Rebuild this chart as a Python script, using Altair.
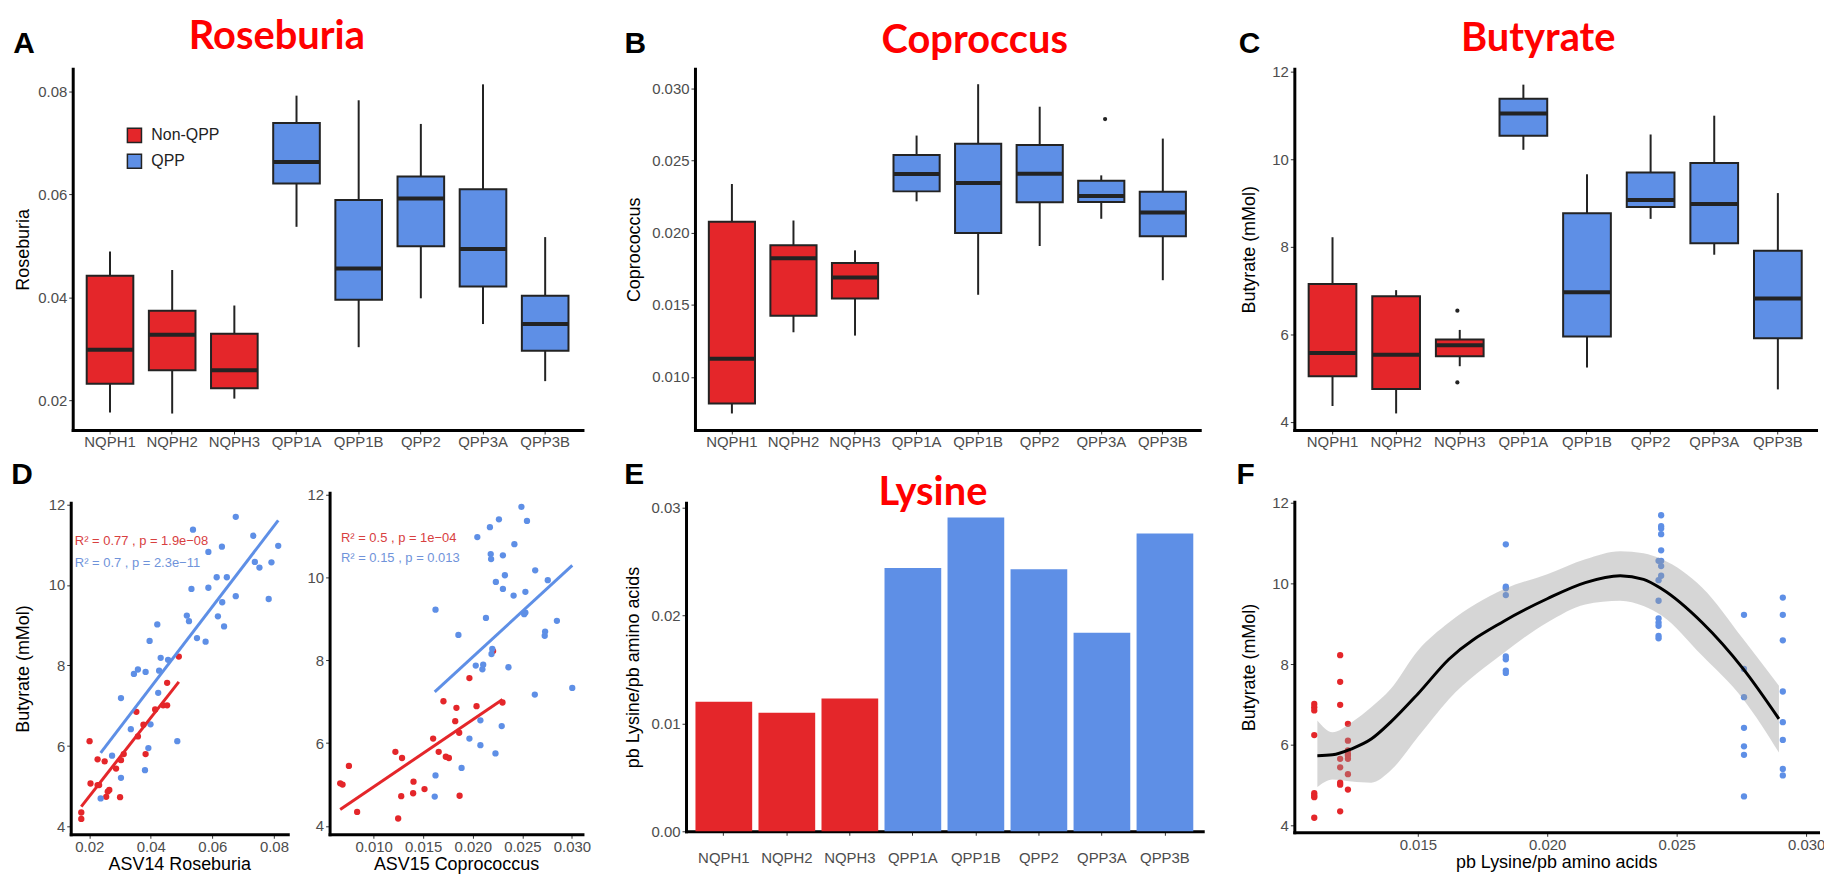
import altair as alt
import pandas as pd

# ------------------------------------------------------------------ data
groups = ["NQPH1", "NQPH2", "NQPH3", "QPP1A", "QPP1B", "QPP2", "QPP3A", "QPP3B"]
group_type = ["Non-QPP", "Non-QPP", "Non-QPP", "QPP", "QPP", "QPP", "QPP", "QPP"]

# A: Roseburia box summaries
rose_low = [0.0176, 0.0174, 0.0203, 0.0537, 0.0303, 0.0398, 0.0348, 0.0237]
rose_q1 = [0.0232, 0.0258, 0.0223, 0.0621, 0.0395, 0.0499, 0.0421, 0.0296]
rose_med = [0.0298, 0.0327, 0.0258, 0.0663, 0.0456, 0.0592, 0.0494, 0.0348]
rose_q3 = [0.0442, 0.0374, 0.0329, 0.0739, 0.0589, 0.0635, 0.0610, 0.0403]
rose_high = [0.0489, 0.0453, 0.0384, 0.0792, 0.0783, 0.0737, 0.0814, 0.0517]

# B: Coprococcus box summaries
cop_low = [0.00747, 0.01310, 0.01287, 0.02218, 0.01570, 0.01908, 0.02097, 0.01671]
cop_q1 = [0.00816, 0.01425, 0.01545, 0.02287, 0.01998, 0.02211, 0.02214, 0.01975]
cop_med = [0.01126, 0.01823, 0.01690, 0.02407, 0.02345, 0.02409, 0.02255, 0.02140]
cop_q3 = [0.02076, 0.01913, 0.01791, 0.02540, 0.02618, 0.02609, 0.02361, 0.02285]
cop_high = [0.02338, 0.02085, 0.01878, 0.02674, 0.03030, 0.02874, 0.02398, 0.02653]
cop_out_group = ["QPP3A"]
cop_out_value = [0.02788]

# C: Butyrate box summaries
but_low = [4.36, 4.19, 5.27, 10.22, 5.24, 8.64, 7.82, 4.74]
but_q1 = [5.04, 4.75, 5.50, 10.54, 5.95, 8.91, 8.08, 5.91]
but_med = [5.57, 5.53, 5.75, 11.05, 6.96, 9.07, 8.98, 6.82]
but_q3 = [7.15, 6.87, 5.88, 11.39, 8.77, 9.70, 9.92, 7.91]
but_high = [8.22, 7.01, 6.10, 11.71, 9.66, 10.57, 11.00, 9.23]
but_out_group = ["NQPH3", "NQPH3"]
but_out_value = [6.54, 4.90]

# D (left): ASV14 Roseburia vs butyrate
d1_red_x = [0.0174, 0.0174, 0.0204, 0.0201, 0.0227, 0.0227, 0.0232, 0.0250, 0.0255, 0.0260,
            0.0265, 0.0287, 0.0300, 0.0303, 0.0312, 0.0353, 0.0358, 0.0376, 0.0383, 0.0414,
            0.0440, 0.0453, 0.0453, 0.0491]
d1_red_y = [4.19, 4.35, 5.07, 6.12, 5.67, 5.03, 5.03, 5.62, 4.74, 4.87,
            4.91, 5.44, 4.73, 5.65, 5.80, 6.85, 6.24, 6.53, 5.80, 6.91,
            7.01, 7.01, 7.57, 8.22]
d1_blue_x = [0.0237, 0.0274, 0.0303, 0.0303, 0.0335, 0.0345, 0.0358, 0.0383, 0.0381, 0.0392,
             0.0396, 0.0399, 0.0421, 0.0424, 0.0427, 0.0432, 0.0456, 0.0486, 0.0517, 0.0524,
             0.0532, 0.0537, 0.0550, 0.0578, 0.0587, 0.0587, 0.0614, 0.0618, 0.0632, 0.0631,
             0.0638, 0.0647, 0.0676, 0.0676, 0.0733, 0.0738, 0.0753, 0.0783, 0.0792, 0.0814]
d1_blue_y = [4.70, 5.76, 5.21, 7.19, 6.42, 7.79, 7.90, 7.84, 5.40, 5.95,
             8.61, 6.54, 9.02, 7.32, 7.87, 8.19, 8.14, 6.12, 9.24, 9.10,
             9.90, 11.37, 8.68, 8.59, 10.82, 9.93, 10.19, 9.22, 9.57, 10.95,
             8.97, 10.19, 9.72, 11.69, 11.22, 10.57, 10.43, 9.65, 10.56, 10.97]

# D (right): ASV15 Coprococcus vs butyrate
d2_red_x = [0.00662, 0.00686, 0.00750, 0.00833, 0.01219, 0.01247, 0.01278, 0.01286, 0.01398, 0.01402,
            0.01513, 0.01600, 0.01656, 0.01704, 0.01728, 0.01759, 0.01823, 0.01835, 0.01863, 0.01867,
            0.01966, 0.02038, 0.02205, 0.02300]
d2_red_y = [5.03, 5.00, 5.45, 4.34, 5.79, 4.18, 4.72, 5.64, 4.79, 5.07,
            4.89, 6.11, 5.79, 7.01, 5.67, 5.64, 6.53, 6.85, 6.25, 4.73,
            7.57, 6.89, 8.22, 6.98]
d2_blue_x = [0.01624, 0.01624, 0.01616, 0.01855, 0.01887, 0.01966, 0.02030, 0.02046, 0.02077, 0.02077,
             0.02097, 0.02105, 0.02133, 0.02173, 0.02181, 0.02185, 0.02189, 0.02197, 0.02229, 0.02233,
             0.02264, 0.02304, 0.02304, 0.02324, 0.02292, 0.02360, 0.02412, 0.02420, 0.02491, 0.02519,
             0.02531, 0.02547, 0.02630, 0.02626, 0.02726, 0.02730, 0.02757, 0.02849, 0.03004, 0.02531]
d2_blue_y = [9.22, 5.22, 4.71, 8.61, 5.40, 6.11, 7.87, 10.97, 6.55, 5.95,
             7.78, 7.89, 9.02, 11.21, 10.56, 10.44, 8.15, 8.27, 5.75, 9.89,
             11.40, 10.53, 9.72, 10.05, 6.41, 7.83, 9.56, 10.80, 11.70, 9.11,
             9.65, 11.36, 10.17, 7.17, 8.59, 8.69, 9.93, 8.95, 7.33, 9.15]

d1_stats = ["R² = 0.77 , p = 1.9e−08", "R² = 0.7 , p = 2.3e−11"]
d2_stats = ["R² = 0.5 , p = 1e−04", "R² = 0.15 , p = 0.013"]

# E: lysine per group
lysine = [0.0120, 0.0110, 0.0123, 0.0244, 0.0291, 0.0243, 0.0184, 0.0276]

# F: butyrate per sample, by group
f_butyrate = {
    "NQPH1": [8.22, 7.56, 6.99, 5.65, 5.44, 5.06, 5.01, 4.35],
    "NQPH2": [7.01, 6.93, 6.85, 6.24, 4.80, 4.74, 4.70, 4.19],
    "NQPH3": [6.52, 6.10, 5.86, 5.77, 5.73, 5.65, 5.27, 4.89],
    "QPP1A": [11.69, 11.42, 11.36, 11.22, 10.82, 10.56, 10.43, 10.19],
    "QPP1B": [9.65, 9.22, 8.59, 7.32, 6.56, 6.12, 5.40, 5.24],
    "QPP2": [10.56, 10.08, 9.57, 9.13, 9.03, 8.95, 8.70, 8.64],
    "QPP3A": [10.97, 9.92, 9.88, 9.71, 8.19, 8.12, 7.84, 7.78],
    "QPP3B": [9.22, 7.88, 7.18, 6.42, 5.96, 5.75, 4.72],
}
smooth_x = [0.01112, 0.0117, 0.01245, 0.0132, 0.01395, 0.0150, 0.0162, 0.01834, 0.0200,
            0.02147, 0.02282, 0.02372, 0.02443, 0.02598, 0.02757, 0.02895]
smooth_fit = [5.73, 5.75, 5.90, 6.14, 6.56, 7.26, 8.12, 9.07, 9.62,
              10.02, 10.19, 10.10, 9.86, 9.03, 7.88, 6.64]
smooth_lo = [4.95, 5.14, 5.09, 5.06, 5.36, 6.19, 7.13, 8.29, 9.03,
             9.48, 9.57, 9.44, 9.20, 8.21, 7.13, 5.81]
smooth_hi = [6.60, 6.31, 6.56, 6.93, 7.38, 8.33, 9.03, 9.86, 10.23,
             10.60, 10.80, 10.75, 10.60, 9.90, 8.62, 7.46]

panel_letters = ["A", "B", "C", "D", "E", "F"]
panel_titles = ["Roseburia", "Coproccus", "Butyrate", "Lysine"]

# ------------------------------------------------------------------ style / layout
OFF = 8
W = 1832 - OFF
H = 875 - OFF


def vx(x):
    return x - OFF


def vy(y):
    return y - OFF


RED = "#E4262A"
BLUE = "#5E8FE6"
EDGE = "#232323"
LAB = "#4D4D4D"
FONT = "Liberation Sans"

AX = dict(domainColor="black", domainWidth=3, domainCap="square", tickColor="#333333",
          tickWidth=1, tickSize=4, labelFont=FONT, labelFontSize=15, labelColor=LAB,
          titleFont=FONT, titleFontSize=18, titleFontWeight="normal", titleColor="black",
          grid=False)


def left_axis(x_full, values, fmt, title=None, tpad=6):
    d = dict(AX, orient="left", offset=-vx(x_full), values=values, labelPadding=2,
             titlePadding=tpad, title=title)
    if fmt:
        d["format"] = fmt
    return alt.Axis(**d)


def bottom_axis(y_full, values=None, fmt=None, title=None, lpad=1, tpad=1):
    d = dict(AX, orient="bottom", offset=vy(y_full) - H, labelPadding=lpad,
             titlePadding=tpad, title=title, labelAngle=0)
    if values is not None:
        d["values"] = values
    if fmt:
        d["format"] = fmt
    return alt.Axis(**d)


def col_of(t):
    return RED if t == "Non-QPP" else BLUE


def box_panel(low, q1, med, q3, high, xr, yr, ydom, yvals, yfmt, ytitle, tpad,
              out_g=None, out_v=None, legend=False):
    df = pd.DataFrame({"group": groups, "type": group_type,
                       "col": [col_of(t) for t in group_type],
                       "low": low, "q1": q1, "med": med, "q3": q3, "high": high})
    step = (xr[1] - xr[0]) / 8.2
    xs = alt.Scale(domain=groups, range=[vx(xr[0]), vx(xr[1])], paddingInner=0.25, paddingOuter=0.225)
    ys = alt.Scale(domain=ydom, range=[vy(yr[1]), vy(yr[0])], nice=False, zero=False)
    base = alt.Chart(df)
    whisk = base.mark_rule(color=EDGE, strokeWidth=2, opacity=1).encode(
        x=alt.X("group:N", scale=xs, axis=None),
        y=alt.Y("low:Q", scale=ys, axis=None), y2="high:Q")
    if legend:
        fill = alt.Fill("type:N", scale=alt.Scale(domain=["Non-QPP", "QPP"], range=[RED, BLUE]),
                        legend=alt.Legend(orient="none", legendX=vx(127), legendY=vy(126), title=None,
                                          symbolType="square", symbolSize=200, symbolStrokeColor=EDGE,
                                          symbolStrokeWidth=1.5, labelFont=FONT, labelFontSize=16,
                                          labelColor="#222222", labelOffset=9, rowPadding=4, padding=0))
    else:
        fill = alt.Fill("col:N", scale=None)
    box = base.mark_bar(stroke=EDGE, strokeWidth=2, opacity=1).encode(
        x=alt.X("group:N", scale=xs, axis=bottom_axis(yr[1])),
        y=alt.Y("q1:Q", scale=ys, axis=left_axis(xr[0], yvals, yfmt, ytitle, tpad)),
        y2="q3:Q", fill=fill)
    medl = base.mark_tick(color=EDGE, thickness=4, size=0.75 * step, orient="horizontal", opacity=1).encode(
        x=alt.X("group:N", scale=xs, axis=None),
        y=alt.Y("med:Q", scale=ys, axis=None))
    layers = [whisk, box, medl]
    if out_g:
        odf = pd.DataFrame({"group": out_g, "v": out_v})
        layers.append(alt.Chart(odf).mark_circle(color=EDGE, size=18, opacity=1).encode(
            x=alt.X("group:N", scale=xs, axis=None),
            y=alt.Y("v:Q", scale=ys, axis=None)))
    return layers


def scatter_panel(rx, ry, bx, by, xr, yr, xdom, ydom, xvals, xfmt, xtitle, ytitle, tpad,
                  stats, stat_x, stat_y):
    df = pd.DataFrame({"x": rx + bx, "y": ry + by,
                       "col": [RED] * len(rx) + [BLUE] * len(bx)})
    xs = alt.Scale(domain=xdom, range=[vx(xr[0]), vx(xr[1])], nice=False, zero=False)
    ys = alt.Scale(domain=ydom, range=[vy(yr[1]), vy(yr[0])], nice=False, zero=False)
    pts = alt.Chart(df).mark_circle(size=40, opacity=1).encode(
        x=alt.X("x:Q", scale=xs, axis=bottom_axis(yr[1], xvals, xfmt, xtitle)),
        y=alt.Y("y:Q", scale=ys, axis=left_axis(xr[0], [4, 6, 8, 10, 12], "d", ytitle, tpad)),
        fill=alt.Fill("col:N", scale=None))
    fit = alt.Chart(df).transform_regression("x", "y", groupby=["col"]).mark_line(
        strokeWidth=3, opacity=1).encode(
        x=alt.X("x:Q", scale=xs, axis=None),
        y=alt.Y("y:Q", scale=ys, axis=None),
        stroke=alt.Stroke("col:N", scale=None))
    layers = [pts, fit]
    for txt, sy, c in zip(stats, stat_y, ["#D8403F", "#6F93DA"]):
        layers.append(alt.Chart(alt.Data(values=[{"t": txt}])).mark_text(
            font=FONT, fontSize=13, color=c, align="left", baseline="middle").encode(
            x=alt.XDatum(stat_x, scale=xs, axis=None),
            y=alt.YDatum(sy, scale=ys, axis=None),
            text="t:N"))
    return layers


def label(txt, x, y, size, color, font=FONT, weight="bold"):
    return alt.Chart(alt.Data(values=[{"t": txt}])).mark_text(
        font=font, fontSize=size, fontWeight=weight, color=color, align="center",
        baseline="middle").encode(x=alt.value(vx(x)), y=alt.value(vy(y)), text="t:N")


layers = []
TOP = (67, 430)
layers += box_panel(rose_low, rose_q1, rose_med, rose_q3, rose_high, (73, 585), TOP,
                    [0.01419, 0.08445], [0.02, 0.04, 0.06, 0.08], ".2f", "Roseburia", 5, legend=True)
layers += box_panel(cop_low, cop_q1, cop_med, cop_q3, cop_high, (698, 1205), TOP,
                    [0.00632, 0.03138], [0.010, 0.015, 0.020, 0.025, 0.030], ".3f", "Coprococcus", 8,
                    cop_out_group, cop_out_value)
layers += box_panel(but_low, but_q1, but_med, but_q3, but_high, (1300, 1824), TOP,
                    [3.81, 12.076], [4, 6, 8, 10, 12], "d", "Butyrate (mMol)", 13,
                    but_out_group, but_out_value)

layers += scatter_panel(d1_red_x, d1_red_y, d1_blue_x, d1_blue_y, (71, 289), (503, 836),
                        [0.01397, 0.0845], [3.81, 12.04], [0.02, 0.04, 0.06, 0.08], ".2f",
                        "ASV14 Roseburia", "Butyrate (mMol)", 16, d1_stats, 0.0153, [11.09, 10.54])
layers += scatter_panel(d2_red_x, d2_red_y, d2_blue_x, d2_blue_y, (331, 585), (493, 836),
                        [0.00555, 0.03107], [3.80, 12.04], [0.010, 0.015, 0.020, 0.025, 0.030], ".3f",
                        "ASV15 Coprococcus", None, 6, d2_stats, 0.0067, [10.94, 10.46])

# E bars
e_df = pd.DataFrame({"group": groups, "lys": lysine, "col": [col_of(t) for t in group_type]})
e_xs = alt.Scale(domain=groups, range=[vx(689), vx(1208)], paddingInner=0.1, paddingOuter=0.15)
e_ys = alt.Scale(domain=[0, 0.03046], range=[vy(833), vy(503)], nice=False)
layers.append(alt.Chart(e_df).mark_bar(opacity=1).encode(
    x=alt.X("group:N", scale=e_xs, axis=bottom_axis(833, lpad=15)),
    y=alt.Y("lys:Q", scale=e_ys, axis=left_axis(689, [0, 0.01, 0.02, 0.03], ".2f",
                                                 "pb Lysine/pb amino acids", 9)),
    fill=alt.Fill("col:N", scale=None)))

# F scatter + smooth
f_rows = []
for g, t, lv in zip(groups, group_type, lysine):
    for v in f_butyrate[g]:
        f_rows.append({"x": lv, "y": v, "col": col_of(t)})
f_df = pd.DataFrame(f_rows)
s_df = pd.DataFrame({"x": smooth_x, "fit": smooth_fit, "lo": smooth_lo, "hi": smooth_hi})
f_xs = alt.Scale(domain=[0.01023, 0.03046], range=[vx(1300), vx(1826)], nice=False, zero=False)
f_ys = alt.Scale(domain=[3.83, 12.025], range=[vy(834), vy(502)], nice=False, zero=False)
layers.append(alt.Chart(f_df).mark_circle(size=40, opacity=1).encode(
    x=alt.X("x:Q", scale=f_xs, axis=bottom_axis(834, [0.015, 0.020, 0.025, 0.030], ".3f",
                                                 "pb Lysine/pb amino acids")),
    y=alt.Y("y:Q", scale=f_ys, axis=left_axis(1300, [4, 6, 8, 10, 12], "d", "Butyrate (mMol)", 13)),
    fill=alt.Fill("col:N", scale=None)))
layers.append(alt.Chart(s_df).mark_area(color="#999999", opacity=0.4, interpolate="monotone").encode(
    x=alt.X("x:Q", scale=f_xs, axis=None),
    y=alt.Y("lo:Q", scale=f_ys, axis=None), y2="hi:Q"))
layers.append(alt.Chart(s_df).mark_line(color="black", strokeWidth=3, interpolate="monotone").encode(
    x=alt.X("x:Q", scale=f_xs, axis=None),
    y=alt.Y("fit:Q", scale=f_ys, axis=None)))

# panel letters and red titles
letter_pos = [(24, 42), (638, 42), (1255, 42), (22, 475), (637, 475), (1251, 475)]
for ch, (lx, ly) in zip(panel_letters, letter_pos):
    layers.append(label(ch, lx, ly, 30, "black"))
title_pos = [(278, 35), (979, 39), (1545, 37), (937, 493)]
for tt, (tx, ty) in zip(panel_titles, title_pos):
    layers.append(label(tt, tx, ty, 40, "#FF0000", font="Lato"))

chart = alt.layer(*layers).resolve_scale(
    x="independent", y="independent"
).properties(
    width=W, height=H, autosize=alt.AutoSizeParams(type="none"), padding=0
).configure_view(stroke=None)

chart.save("out.html", embed_options={"renderer": "svg", "actions": False})
